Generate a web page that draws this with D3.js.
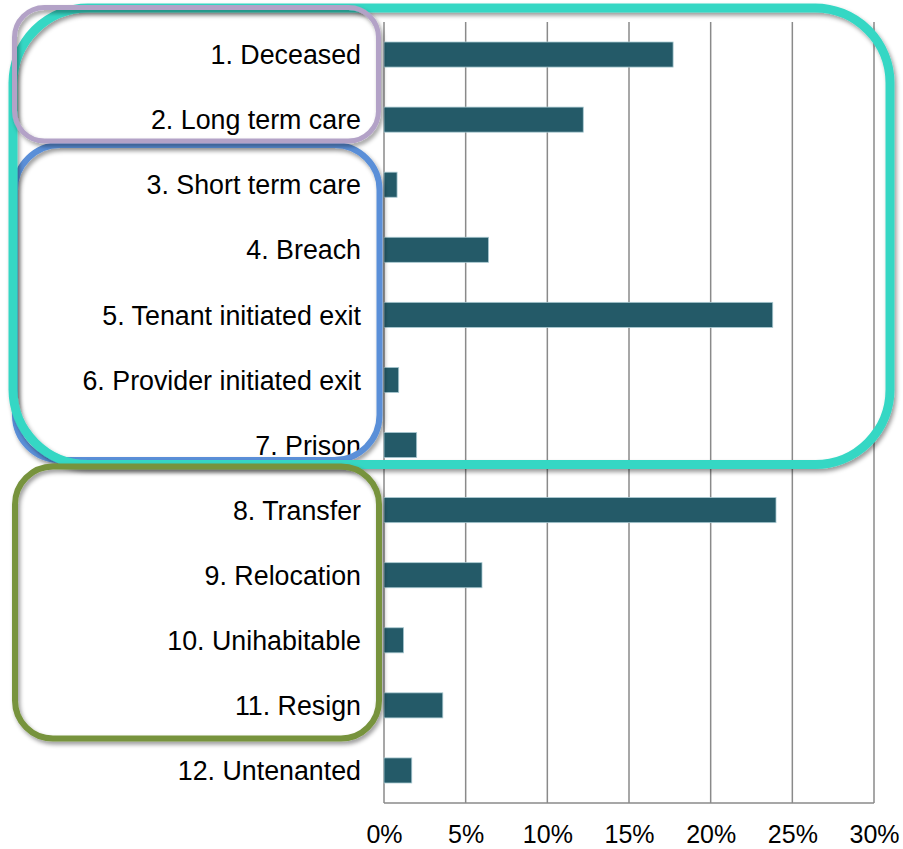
<!DOCTYPE html>
<html>
<head>
<meta charset="utf-8">
<script src="https://cdn.jsdelivr.net/npm/d3@7"></script>
<style>
  html, body { margin: 0; padding: 0; background: #ffffff; }
  svg { display: block; font-family: "Liberation Sans", Arial, Helvetica, sans-serif; }
</style>
</head>
<body>
<svg id="chart" width="903" height="849"></svg>
<script>
// Exit reasons and the share of exits for each
const categories = [
  "1. Deceased",
  "2. Long term care",
  "3. Short term care",
  "4. Breach",
  "5. Tenant initiated exit",
  "6. Provider initiated exit",
  "7. Prison",
  "8. Transfer",
  "9. Relocation",
  "10. Unihabitable",
  "11. Resign",
  "12. Untenanted"
];
const shares = [0.177, 0.122, 0.008, 0.064, 0.238, 0.009, 0.020, 0.240, 0.060, 0.012, 0.036, 0.017];
const tickValues = [0, 0.05, 0.10, 0.15, 0.20, 0.25, 0.30];

// Grouping outlines: first and last category index of each group
const groupNames = ["teal", "purple", "blue", "green"];
const groupFirst = [0, 0, 2, 7];
const groupLast  = [6, 1, 6, 10];

const svg = d3.select("#chart");
const plotLeft = 384, plotRight = 874, plotTop = 22, plotBottom = 803;

const x = d3.scaleLinear().domain([0, 0.30]).range([plotLeft, plotRight]);
const y = d3.scaleBand().domain(categories).range([plotTop, plotBottom]).padding(0);
const barH = y.bandwidth() * 0.385;

const data = categories.map((c, i) => ({ cat: c, value: shares[i] }));

// Soft shadow used by the outlines
const defs = svg.append("defs");
const f = defs.append("filter").attr("id", "shadow")
  .attr("x", "-10%").attr("y", "-10%").attr("width", "120%").attr("height", "120%");
f.append("feDropShadow").attr("dx", 2).attr("dy", 3).attr("stdDeviation", 2.2)
  .attr("flood-color", "#000").attr("flood-opacity", 0.4);

// Vertical gridlines
svg.append("g").selectAll("line").data(tickValues).join("line")
  .attr("x1", d => x(d)).attr("x2", d => x(d))
  .attr("y1", plotTop).attr("y2", plotBottom)
  .attr("stroke", "#8a8a8a").attr("stroke-width", 1.5);

// Bottom baseline
svg.append("line")
  .attr("x1", plotLeft).attr("x2", plotRight).attr("y1", plotBottom).attr("y2", plotBottom)
  .attr("stroke", "#8a8a8a").attr("stroke-width", 1.5);

// Bars
svg.append("g").selectAll("rect").data(data).join("rect")
  .attr("x", x(0))
  .attr("y", d => y(d.cat) + (y.bandwidth() - barH) / 2)
  .attr("width", d => x(d.value) - x(0))
  .attr("height", barH)
  .attr("fill", "#245a68")
  .attr("stroke", "#a9c9d1").attr("stroke-width", 0.8);

// Category labels
const yAxis = svg.append("g").attr("transform", `translate(${plotLeft},0)`)
  .call(d3.axisLeft(y).tickSize(0).tickPadding(23));
yAxis.select(".domain").remove();
yAxis.selectAll("text").attr("font-size", 26.8).attr("fill", "#000").attr("dy", "0.36em")
  .attr("font-family", "'Liberation Sans', Arial, sans-serif");

// Percentage ticks
const xAxis = svg.append("g").attr("transform", `translate(0,${plotBottom})`)
  .call(d3.axisBottom(x).tickValues(tickValues).tickFormat(d3.format(".0%")).tickSize(0).tickPadding(22));
xAxis.select(".domain").remove();
xAxis.selectAll("text").attr("font-size", 25).attr("fill", "#000")
  .attr("font-family", "'Liberation Sans', Arial, sans-serif");

// Rounded group outlines, positioned relative to the bands they enclose
const boxes = {
  teal:   { x0: 13,   x1: 890,   offTop: -14,   offBottom: -13,   r: 75, color: "#36d7c4", w: 9 },
  purple: { x0: 14.5, x1: 378.5, offTop: -14.5, offBottom: -11.2, r: 30, color: "#b3a2c7", w: 5 },
  blue:   { x0: 15,   x1: 379.5, offTop: -7.2,  offBottom: -17.6, r: 45, color: "#5a8fd8", w: 6 },
  green:  { x0: 15,   x1: 379,   offTop: -11.1, offBottom: 0.6,   r: 38, color: "#77933c", w: 6 }
};
const order = ["blue", "teal", "purple", "green"];
svg.append("g").selectAll("rect").data(order).join("rect")
  .each(function (name) {
    const b = boxes[name];
    const gi = groupNames.indexOf(name);
    const y0 = y(categories[groupFirst[gi]]) + b.offTop;
    const y1 = y(categories[groupLast[gi]]) + y.bandwidth() + b.offBottom;
    d3.select(this)
      .attr("x", b.x0).attr("y", y0)
      .attr("width", b.x1 - b.x0).attr("height", y1 - y0)
      .attr("rx", b.r).attr("ry", b.r)
      .attr("fill", "none")
      .attr("stroke", b.color).attr("stroke-width", b.w)
      .attr("filter", "url(#shadow)");
  });
</script>
</body>
</html>
